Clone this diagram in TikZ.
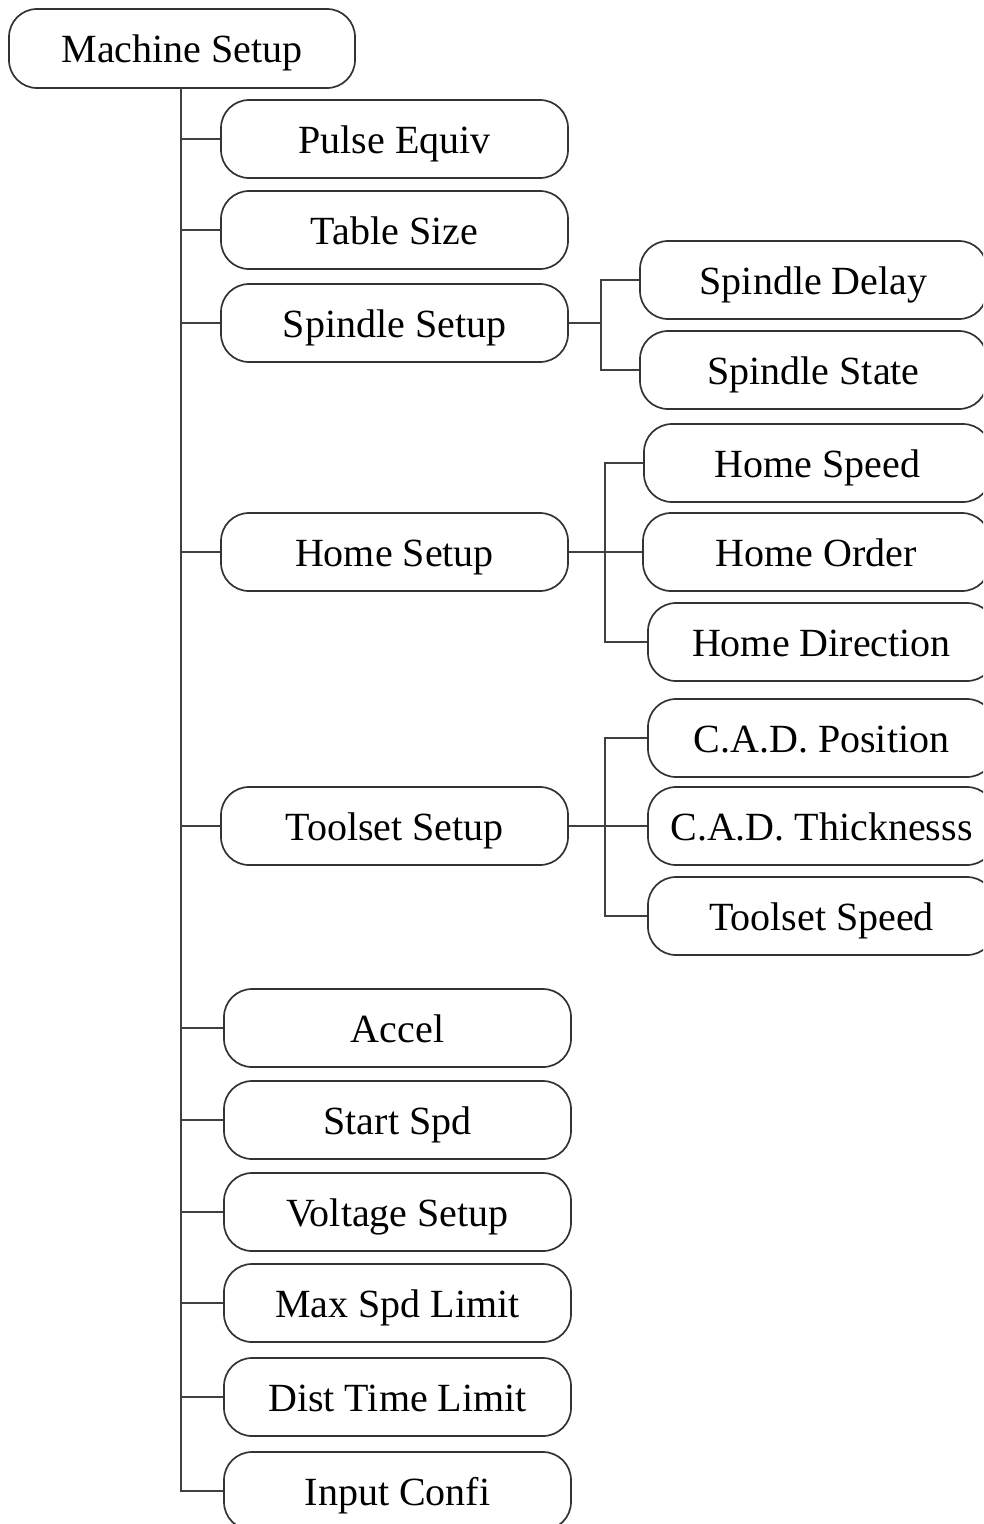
\documentclass[tikz,border=0pt]{standalone}
\usepackage{fontspec}
\setmainfont{Liberation Serif}
\begin{document}
\begin{tikzpicture}[x=1pt,y=-1pt,
  box/.style={draw=black!80, line width=1.7pt, rounded corners=28pt,
    minimum width=347pt, minimum height=78pt, inner sep=0pt,
    text height=34pt, text depth=6pt,
    font=\fontsize{40}{44}\selectfont, text=black},
  link/.style={draw=black!75, line width=1.7pt}]
\useasboundingbox (0,0) rectangle (983,1524);
\clip (0,0) rectangle (983,1524);
\node[box, minimum width=346pt, minimum height=79pt] (ms) at (182,48.5) {Machine Setup};
\node[box] (pe) at (394.5,139) {Pulse Equiv};
\node[box] (ts) at (394.5,230) {Table Size};
\node[box] (ss) at (394.5,323) {Spindle Setup};
\node[box] (hs) at (394.5,552) {Home Setup};
\node[box] (tss) at (394.5,826) {Toolset Setup};
\node[box] (ac) at (397.5,1028) {Accel};
\node[box] (sp) at (397.5,1120) {Start Spd};
\node[box] (vs) at (397.5,1212) {Voltage Setup};
\node[box] (mx) at (397.5,1303) {Max Spd Limit};
\node[box] (dt) at (397.5,1397) {Dist Time Limit};
\node[box] (ic) at (397.5,1491) {Input Confi};
\node[box] (sd) at (813.5,280) {Spindle Delay};
\node[box] (sst) at (813.5,370) {Spindle State};
\node[box] (hsp) at (817.5,463) {Home Speed};
\node[box] (ho) at (816.5,552) {Home Order};
\node[box] (hd) at (821.5,642) {Home Direction};
\node[box] (cp) at (821.5,738) {C.A.D. Position};
\node[box] (ct) at (821.5,826) {C.A.D. Thicknesss};
\node[box] (tsp) at (821.5,916) {Toolset Speed};
% trunk
\coordinate (tr) at (181,88);
\draw[link] (tr) |- (ic.west);
\foreach \n in {pe,ts,ss,hs,tss,ac,sp,vs,mx,dt}
  \draw[link] (tr |- \n.west) -- (\n.west);
% spindle
\coordinate (sb) at (601,0);
\draw[link] (ss.east) -- (ss.east -| sb);
\draw[link] (sd.west) -| (sb |- sst.west) -- (sst.west);
% home
\coordinate (hb) at (605,0);
\draw[link] (hs.east) -- (ho.west);
\draw[link] (hsp.west) -| (hb |- hd.west) -- (hd.west);
% toolset
\coordinate (tb) at (605,0);
\draw[link] (tss.east) -- (ct.west);
\draw[link] (cp.west) -| (tb |- tsp.west) -- (tsp.west);
\end{tikzpicture}
\end{document}
